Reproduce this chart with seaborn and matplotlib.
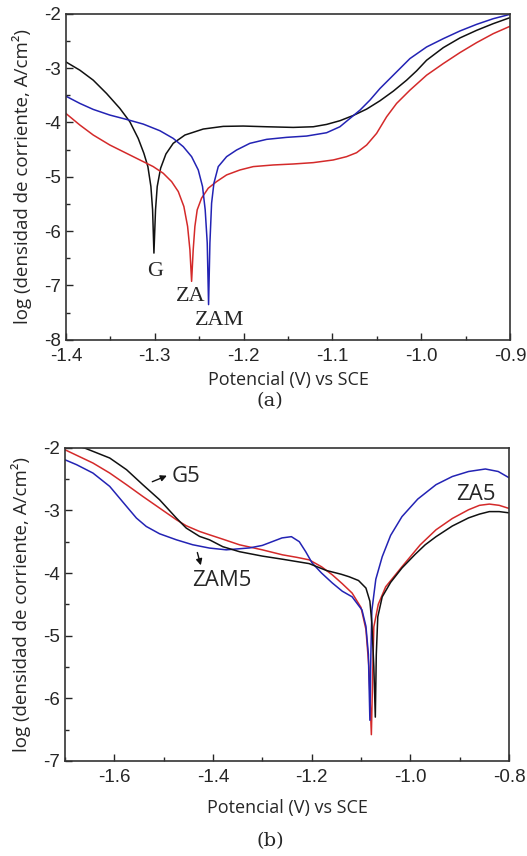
import numpy as np
import pandas as pd
import seaborn as sns
import matplotlib.pyplot as plt
from matplotlib.ticker import MultipleLocator

# ---- panel (a) data: potential (V) vs log current density ----
g_x = [-1.4000, -1.3842, -1.3692, -1.3542, -1.3392, -1.3280, -1.3186, -1.3122, -1.3077, -1.3043,
       -1.3024, -1.3009, -1.2991, -1.2972, -1.2934, -1.2874, -1.2792, -1.2660, -1.2454, -1.2229,
       -1.2004, -1.1741, -1.1441, -1.1216, -1.1066, -1.0916, -1.0765, -1.0615, -1.0465, -1.0315,
       -1.0165, -1.0053, -0.9940, -0.9752, -0.9565, -0.9377, -0.9190, -0.9002]
g_y = [-2.887, -3.040, -3.223, -3.468, -3.743, -3.988, -4.294, -4.569, -4.813, -5.180,
       -5.609, -6.404, -5.609, -5.180, -4.844, -4.581, -4.385, -4.232, -4.122, -4.073,
       -4.067, -4.080, -4.092, -4.080, -4.037, -3.969, -3.872, -3.755, -3.602, -3.425,
       -3.223, -3.052, -2.856, -2.624, -2.446, -2.306, -2.183, -2.073]

zam_x = [-1.4000, -1.3842, -1.3692, -1.3505, -1.3317, -1.3129, -1.2942, -1.2792, -1.2679, -1.2585,
         -1.2510, -1.2462, -1.2432, -1.2409, -1.2394, -1.2379, -1.2360, -1.2334, -1.2285, -1.2191,
         -1.2079, -1.1929, -1.1741, -1.1516, -1.1291, -1.1066, -1.0916, -1.0803, -1.0690, -1.0578,
         -1.0465, -1.0315, -1.0128, -0.9940, -0.9752, -0.9565, -0.9377, -0.9190, -0.9002]
zam_y = [-3.517, -3.651, -3.761, -3.865, -3.945, -4.031, -4.153, -4.294, -4.446, -4.630,
         -4.875, -5.180, -5.609, -6.220, -7.352, -6.220, -5.486, -5.119, -4.813, -4.630,
         -4.508, -4.385, -4.312, -4.275, -4.251, -4.190, -4.080, -3.927, -3.774, -3.590,
         -3.376, -3.131, -2.826, -2.612, -2.459, -2.318, -2.196, -2.092, -2.012]

za_x = [-1.4000, -1.3842, -1.3692, -1.3505, -1.3317, -1.3129, -1.3017, -1.2904, -1.2810, -1.2735,
        -1.2672, -1.2630, -1.2604, -1.2585, -1.2567, -1.2548, -1.2522, -1.2473, -1.2398, -1.2304,
        -1.2191, -1.2041, -1.1891, -1.1666, -1.1441, -1.1216, -1.0991, -1.0841, -1.0728, -1.0615,
        -1.0503, -1.0390, -1.0278, -1.0128, -0.9940, -0.9752, -0.9565, -0.9377, -0.9190, -0.9002]
za_y = [-3.835, -4.049, -4.232, -4.416, -4.569, -4.722, -4.813, -4.936, -5.089, -5.272,
        -5.547, -5.914, -6.343, -6.924, -6.343, -5.914, -5.609, -5.394, -5.211, -5.089,
        -4.966, -4.875, -4.813, -4.783, -4.765, -4.740, -4.691, -4.630, -4.557, -4.416,
        -4.202, -3.896, -3.651, -3.407, -3.131, -2.917, -2.716, -2.532, -2.367, -2.232]

# ---- panel (b) data ----
g5_x = [-1.700, -1.660, -1.609, -1.575, -1.542, -1.508, -1.474, -1.454, -1.427, -1.407,
        -1.380, -1.346, -1.300, -1.259, -1.205, -1.170, -1.140, -1.124, -1.105, -1.090,
        -1.082, -1.078, -1.074, -1.071, -1.069, -1.066, -1.057, -1.040, -1.017, -0.990,
        -0.970, -0.948, -0.915, -0.882, -0.860, -0.840, -0.820, -0.800]
g5_y = [-1.92, -2.005, -2.165, -2.351, -2.591, -2.831, -3.123, -3.283, -3.416, -3.47,
        -3.58, -3.66, -3.73, -3.78, -3.85, -3.96, -4.02, -4.06, -4.12, -4.24,
        -4.45, -4.80, -5.50, -6.30, -5.30, -4.70, -4.38, -4.15, -3.92, -3.70,
        -3.55, -3.42, -3.25, -3.12, -3.06, -3.02, -3.02, -3.04]

za5_x = [-1.700, -1.643, -1.609, -1.575, -1.542, -1.508, -1.474, -1.454, -1.427, -1.407,
         -1.380, -1.346, -1.300, -1.259, -1.230, -1.205, -1.180, -1.158, -1.138, -1.118,
         -1.100, -1.090, -1.084, -1.079, -1.076, -1.074, -1.065, -1.050, -1.017, -0.980,
         -0.948, -0.915, -0.882, -0.860, -0.840, -0.820, -0.800]
za5_y = [-2.032, -2.245, -2.405, -2.591, -2.778, -2.964, -3.150, -3.246, -3.337, -3.39,
         -3.46, -3.55, -3.63, -3.71, -3.75, -3.79, -3.90, -4.03, -4.17, -4.32,
         -4.55, -4.90, -5.50, -6.58, -5.50, -4.86, -4.50, -4.22, -3.90, -3.55,
         -3.31, -3.13, -2.99, -2.92, -2.90, -2.92, -2.97]

zam5_x = [-1.700, -1.676, -1.643, -1.609, -1.575, -1.555, -1.535, -1.508, -1.474, -1.441,
          -1.407, -1.373, -1.326, -1.300, -1.280, -1.260, -1.241, -1.225, -1.212, -1.199,
          -1.180, -1.158, -1.138, -1.118, -1.098, -1.090, -1.085, -1.082, -1.080, -1.078,
          -1.070, -1.057, -1.040, -1.017, -0.985, -0.948, -0.915, -0.882, -0.848, -0.822,
          -0.800]
zam5_y = [-2.192, -2.272, -2.405, -2.618, -2.937, -3.123, -3.257, -3.374, -3.470, -3.549,
          -3.602, -3.63, -3.60, -3.56, -3.50, -3.44, -3.42, -3.50, -3.66, -3.84,
          -4.00, -4.16, -4.29, -4.38, -4.59, -4.85, -5.30, -6.35, -5.30, -4.60,
          -4.10, -3.74, -3.40, -3.10, -2.82, -2.59, -2.46, -2.38, -2.34, -2.38,
          -2.48]

BLACK = "#111111"
BLUE = "#2323b4"
RED = "#d42a2a"

sns.set_style("ticks")
plt.rcParams['font.family'] = ['Liberation Sans', 'DejaVu Sans']
plt.rcParams['axes.linewidth'] = 1.2
plt.rcParams['axes.edgecolor'] = '#333333'

fig = plt.figure(figsize=(5.27, 8.56), dpi=100)
ax1 = fig.add_axes([0.125, 0.603, 0.843, 0.381])
ax2 = fig.add_axes([0.123, 0.111, 0.843, 0.366])

def draw(ax, x, y, color):
    df = pd.DataFrame({'E': x, 'logi': y})
    sns.lineplot(data=df, x='E', y='logi', ax=ax, color=color, lw=1.1,
                 sort=False, estimator=None)

draw(ax1, g_x, g_y, BLACK)
draw(ax1, za_x, za_y, RED)
draw(ax1, zam_x, zam_y, BLUE)

draw(ax2, za5_x, za5_y, RED)
draw(ax2, zam5_x, zam5_y, BLUE)
draw(ax2, g5_x, g5_y, BLACK)

ylabel = "log (densidad de corriente, A/cm²)"
for ax in (ax1, ax2):
    ax.tick_params(direction='in', which='both', labelsize=13.5, length=5, width=1)
    ax.tick_params(which='minor', length=3)
    ax.tick_params(axis='x', pad=6)
    ax.set_ylabel(ylabel, family='Open Sans', fontsize=13.5, labelpad=9)
    ax.yaxis.set_major_locator(MultipleLocator(1))
    ax.yaxis.set_minor_locator(MultipleLocator(0.5))
    ax.xaxis.set_major_formatter(lambda v, p: f"{v:.1f}")
    ax.yaxis.set_major_formatter(lambda v, p: f"{v:.0f}")

# panel (a)
ax1.set_xlim(-1.4, -0.9)
ax1.set_ylim(-8, -2)
ax1.xaxis.set_major_locator(MultipleLocator(0.1))
ax1.xaxis.set_minor_locator(MultipleLocator(0.05))
ax1.set_xlabel("Potencial (V) vs SCE", family='Open Sans', fontsize=13, labelpad=4)
serif = ['Liberation Serif', 'DejaVu Serif']
ax1.text(-1.300, -6.75, "G", family=serif, fontsize=16, ha='center', va='center')
ax1.text(-1.260, -7.2, "ZA", family=serif, fontsize=16, ha='center', va='center')
ax1.text(-1.227, -7.65, "ZAM", family=serif, fontsize=16, ha='center', va='center')

# panel (b)
ax2.set_xlim(-1.7, -0.8)
ax2.set_ylim(-7, -2)
ax2.xaxis.set_major_locator(MultipleLocator(0.2))
ax2.xaxis.set_minor_locator(MultipleLocator(0.1))
ax2.set_xlabel("Potencial (V) vs SCE", family='Open Sans', fontsize=13, labelpad=9)
arrow = dict(arrowstyle='-|>', color=BLACK, lw=1, mutation_scale=9)
ax2.annotate("", xy=(-1.488, -2.43), xytext=(-1.528, -2.56), arrowprops=arrow)
ax2.text(-1.483, -2.46, "G5", family='Open Sans', fontsize=16, ha='left', va='center')
ax2.annotate("", xy=(-1.423, -3.92), xytext=(-1.433, -3.63), arrowprops=arrow)
ax2.text(-1.442, -4.12, "ZAM5", family='Open Sans', fontsize=16, ha='left', va='center')
ax2.text(-0.908, -2.75, "ZA5", family='Open Sans', fontsize=16, ha='left', va='center')

cm = ['DejaVu Serif']
fig.text(0.512, 0.532, "(a)", family=cm, fontsize=14, ha='center', va='center')
fig.text(0.512, 0.018, "(b)", family=cm, fontsize=14, ha='center', va='center')

fig.savefig("out.png", dpi=100)
